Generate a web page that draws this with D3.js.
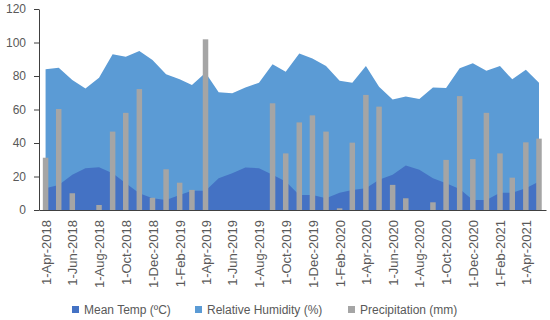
<!DOCTYPE html>
<html>
<head>
<meta charset="utf-8">
<script src="https://cdn.jsdelivr.net/npm/d3@7"></script>
<style>
  body { margin: 0; background: #fff; }
  text { font-family: "Liberation Sans", Arial, sans-serif; fill: #595959; }
</style>
</head>
<body>
<div id="chart"></div>
<script>
// monthly readings, Apr 2018 - May 2021
const months = [
  "2018-04-01","2018-05-01","2018-06-01","2018-07-01","2018-08-01","2018-09-01",
  "2018-10-01","2018-11-01","2018-12-01","2019-01-01","2019-02-01","2019-03-01",
  "2019-04-01","2019-05-01","2019-06-01","2019-07-01","2019-08-01","2019-09-01",
  "2019-10-01","2019-11-01","2019-12-01","2020-01-01","2020-02-01","2020-03-01",
  "2020-04-01","2020-05-01","2020-06-01","2020-07-01","2020-08-01","2020-09-01",
  "2020-10-01","2020-11-01","2020-12-01","2021-01-01","2021-02-01","2021-03-01",
  "2021-04-01","2021-05-01"
];
const meanTemp = [
  13, 15, 21, 25, 25.5, 22, 16, 10, 7, 6, 9, 11.5,
  11.5, 19, 22, 25.3, 25, 21, 17, 9, 9, 7, 10.3, 12,
  13, 18, 21, 26.5, 24, 19, 16, 12.5, 6, 6, 10.3, 10.3,
  13, 17
];
const humidity = [
  84, 85, 77.6, 72.6, 79, 93, 91.5, 95, 89.5, 81, 78, 74.6,
  82, 70.3, 69.7, 73.2, 76, 87, 82.6, 93.5, 90.5, 86, 77.2, 76,
  86, 73.6, 66, 67.7, 66.3, 73.2, 72.8, 84.6, 87.6, 83.2, 86, 78,
  83.8, 76
];
const precipitation = [
  31.2, 60.3, 10, 0, 3, 46.8, 58, 72.2, 7.3, 24.3, 16.3, 12,
  101.9, 0, 0, 0, 0, 63.7, 33.8, 52.3, 56.5, 46.8, 1, 40.2,
  68.7, 61.7, 15, 7, 0, 4.6, 29.9, 68, 30.4, 58, 33.8, 19.3,
  40.4, 42.6
];
const yTicks = [0, 20, 40, 60, 80, 100, 120];
const legendLabels = ["Mean Temp (ºC)", "Relative Humidity (%)", "Precipitation (mm)"];
const colors = ["#4472C4", "#5B9BD5", "#A5A5A5"];

const width = 550, height = 320;
const svg = d3.select("#chart").append("svg").attr("width", width).attr("height", height);

const parse = d3.timeParse("%Y-%m-%d");
const dates = months.map(parse);
const rows = dates.map((d, i) => ({ date: d, temp: meanTemp[i], rh: humidity[i], rain: precipitation[i] }));

const x = d3.scaleTime()
  .domain([d3.timeDay.offset(dates[0], -15), d3.timeDay.offset(dates[dates.length - 1], 16)])
  .range([39, 546]);
const y = d3.scaleLinear().domain([0, 120]).range([210, 9]);

// humidity behind, temperature in front
const areaOf = key => d3.area().x(d => x(d.date)).y0(y(0)).y1(d => y(d[key]));
svg.append("path").datum(rows).attr("fill", colors[1]).attr("d", areaOf("rh"));
svg.append("path").datum(rows).attr("fill", colors[0]).attr("d", areaOf("temp"));

const barW = 5.5;
svg.append("g").selectAll("rect").data(rows).join("rect")
  .attr("x", d => x(d.date) - barW / 2)
  .attr("y", d => y(d.rain))
  .attr("width", barW)
  .attr("height", d => y(0) - y(d.rain))
  .attr("fill", colors[2]);

// y axis
const yAxis = svg.append("g").attr("transform", "translate(39,0)")
  .call(d3.axisLeft(y).tickValues(yTicks).tickSize(5).tickSizeOuter(0).tickPadding(8));
yAxis.selectAll("line, path").attr("stroke", "#404040");
yAxis.selectAll("text").attr("font-size", 12).style("font-family", "Liberation Sans, Arial, sans-serif").attr("fill", "#595959");

// x axis, labels every two months
const fmt = d3.timeFormat("%-d-%b-%Y");
const labelDates = dates.filter((d, i) => i % 2 === 0);
const xAxis = svg.append("g").attr("transform", "translate(0,210)")
  .call(d3.axisBottom(x).tickValues(labelDates).tickFormat(fmt).tickSize(0).tickSizeOuter(0).tickPadding(0));
xAxis.select("path").attr("stroke", "#404040");
xAxis.selectAll("text")
  .attr("font-size", 13)
  .style("font-family", "Liberation Sans, Arial, sans-serif")
  .attr("fill", "#595959")
  .attr("text-anchor", "end")
  .attr("transform", "rotate(-90)")
  .attr("x", -10)
  .attr("y", 0)
  .attr("dy", "0.35em");

// legend
const legendX = [72, 195, 348];
const legend = svg.append("g").selectAll("g").data(legendLabels).join("g")
  .attr("transform", (d, i) => `translate(${legendX[i]},310)`);
legend.append("rect").attr("x", 0).attr("y", -4).attr("width", 7).attr("height", 7)
  .attr("fill", (d, i) => colors[i]);
legend.append("text").attr("x", 12).attr("y", 0).attr("dy", "0.35em")
  .attr("font-size", 12).text(d => d);
</script>
</body>
</html>
